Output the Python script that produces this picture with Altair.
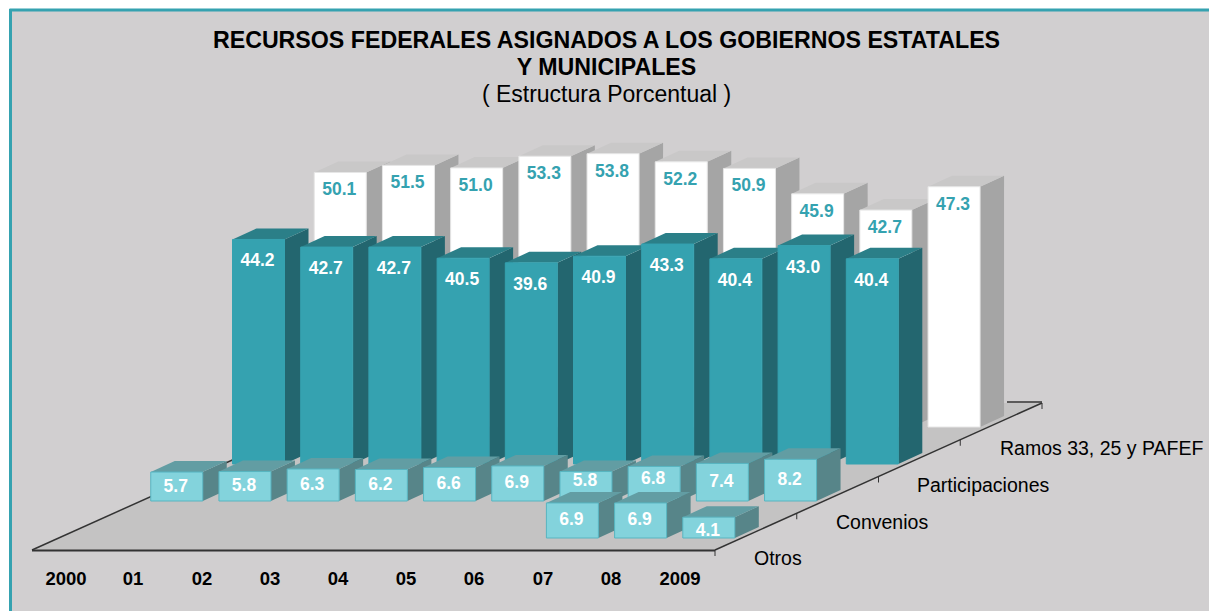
import altair as alt
import pandas as pd

years = ["2000", "01", "02", "03", "04", "05", "06", "07", "08", "2009"]
series_names = ["Otros", "Convenios", "Participaciones", "Ramos 33, 25 y PAFEF"]
otros = [None, None, None, None, None, None, None, 6.9, 6.9, 4.1]
convenios = [5.7, 5.8, 6.3, 6.2, 6.6, 6.9, 5.8, 6.8, 7.4, 8.2]
participaciones = [44.2, 42.7, 42.7, 40.5, 39.6, 40.9, 43.3, 40.4, 43.0, 40.4]
ramos = [50.1, 51.5, 51.0, 53.3, 53.8, 52.2, 50.9, 45.9, 42.7, 47.3]
all_series = [otros, convenios, participaciones, ramos]

W, H = 1201, 603
STEP = 68.2       # px between columns
PCT = 5.08        # px per percentage point
COL_W = 52
DX, DY = 24, 11   # depth of a box
DEPTH_X, DEPTH_Y = 81.75, 37  # shift from one series row to the next
X0, Y0 = 69, 538  # front-left base of the first row

def ux(px):
    return (px - 8) / STEP

def uy(py):
    return (611 - py) / PCT

x_scale = alt.Scale(domain=[0, W / STEP], nice=False, zero=False)
y_scale = alt.Scale(domain=[0, H / PCT], nice=False, zero=False)
X = alt.X("x:Q", scale=x_scale, axis=None)
Y = alt.Y("y:Q", scale=y_scale, axis=None)

styles = [
    dict(front="#83D3DC", edge="#57B5C1", top="#629DA3", side="#578589", text="#FFFFFF", lab=None),
    dict(front="#83D3DC", edge="#57B5C1", top="#629DA3", side="#578589", text="#FFFFFF", lab=None),
    dict(front="#35A2B0", edge="#35A2B0", top="#2B7F88", side="#23666F", text="#FFFFFF", lab=22),
    dict(front="#FFFFFF", edge="#E6E6E6", top="#C9C8C8", side="#A5A5A5", text="#35A2B0", lab=18),
]
nudges = {(1, 6): -5, (1, 7): -5, (0, 9): 3.5}

def area(rows, color):
    df = pd.DataFrame(rows, columns=["x", "y", "y2", "k"])
    return alt.Chart(df).mark_area(color=color, opacity=1, interpolate="linear").encode(
        x=X, y=Y, y2="y2:Q", detail="k:N")

def seg(rows, color, width=1.5):
    df = pd.DataFrame(rows, columns=["x", "y", "x2", "y2"])
    return alt.Chart(df).mark_rule(color=color, strokeWidth=width).encode(x=X, y=Y, x2="x2:Q", y2="y2:Q")

layers = []

# panel
panel = pd.DataFrame({"x": [ux(11)], "x2": [W / STEP], "y": [uy(10)], "y2": [0]})
layers.append(alt.Chart(panel).mark_rect(color="#D1CFD0").encode(x=X, x2="x2:Q", y=Y, y2="y2:Q"))
layers.append(seg([(ux(9.5), uy(10), W / STEP, uy(10)), (ux(10.5), uy(9), ux(10.5), 0)], "#35A2B0", 3))

# floor
fx = [32, 359, 715, 1042]
layers.append(area([(ux(fx[0]), uy(550), uy(550), 0), (ux(fx[1]), uy(403), uy(550), 0),
                    (ux(fx[2]), uy(403), uy(550), 0), (ux(fx[3]), uy(403), uy(403), 0)], "#C4C3C3"))
layers.append(seg([(ux(715), uy(550), ux(1042), uy(403)),
                   (ux(32), uy(550), ux(359), uy(403)),
                   (ux(1007), uy(402), ux(1042), uy(402))], "#333333"))
layers.append(seg([(ux(32), uy(550.5), ux(715), uy(550.5))], "#333333", 2))
ticks = []
for s in range(5):
    tx, ty = 715 + s * DEPTH_X, 550 - s * 36.75
    ticks.append((ux(tx), uy(ty), ux(tx), uy(ty + 6)))
layers.append(seg(ticks, "#333333", 1))

# boxes, back to front
for s in [3, 2, 1, 0]:
    st = styles[s]
    vals = all_series[s]
    base_px = Y0 - s * DEPTH_Y
    left_px = X0 + s * DEPTH_X
    sides, tops, fronts, labels = [], [], [], []
    for i, v in enumerate(vals):
        if v is None:
            continue
        l = left_px + i * STEP
        r = l + COL_W
        top = base_px - v * PCT
        sides += [(ux(r), uy(top), uy(base_px), i), (ux(r + DX), uy(top - DY), uy(base_px - DY), i)]
        tops += [(ux(l), uy(top), uy(top), i), (ux(l + DX), uy(top - DY), uy(top), i),
                 (ux(r), uy(top - DY), uy(top), i), (ux(r + DX), uy(top - DY), uy(top - DY), i)]
        fronts.append((ux(l), ux(r), uy(top), uy(base_px)))
        ly = top + st["lab"] if st["lab"] else (top + base_px) / 2
        ly += nudges.get((s, i), 0)
        labels.append((ux((l + r) / 2 - 1), uy(ly), f"{v:.1f}"))
    layers.append(area(sides, st["side"]))
    layers.append(area(tops, st["top"]))
    fdf = pd.DataFrame(fronts, columns=["x", "x2", "y", "y2"])
    layers.append(alt.Chart(fdf).mark_rect(color=st["front"], stroke=st["edge"], strokeWidth=1)
                  .encode(x=X, x2="x2:Q", y=Y, y2="y2:Q"))
    ldf = pd.DataFrame(labels, columns=["x", "y", "t"])
    layers.append(alt.Chart(ldf).mark_text(color=st["text"], font="Liberation Sans", fontWeight="bold",
                                           fontSize=17.5, baseline="middle", align="center")
                  .encode(x=X, y=Y, text="t:N"))

# category (year) labels
year_px = [66, 133, 202, 270, 338, 406, 474, 543, 611, 680]
ydf = pd.DataFrame({"x": [ux(p) for p in year_px], "y": [uy(579)] * 10, "t": years})
layers.append(alt.Chart(ydf).mark_text(color="#000000", font="Liberation Sans", fontWeight="bold",
                                       fontSize=18.5, baseline="middle", align="center")
              .encode(x=X, y=Y, text="t:N"))

# series labels
lab_pos = [(754, 559), (836, 523), (917, 486), (1000, 449)]
sdf = pd.DataFrame({"x": [ux(p[0]) for p in lab_pos], "y": [uy(p[1]) for p in lab_pos], "t": series_names})
layers.append(alt.Chart(sdf).mark_text(color="#000000", font="Liberation Sans", fontSize=19.5,
                                       baseline="middle", align="left")
              .encode(x=X, y=Y, text="t:N"))

chart = alt.layer(*layers).properties(
    width=W, height=H,
    title=alt.TitleParams(
        text=["RECURSOS FEDERALES ASIGNADOS A LOS GOBIERNOS ESTATALES", "Y MUNICIPALES"],
        subtitle="( Estructura Porcentual )",
        anchor="middle", orient="top", dx=-2, dy=100, offset=0,
        font="Liberation Sans", fontWeight="bold", fontSize=23.2, lineHeight=27, color="#000000",
        subtitleFont="Liberation Sans", subtitleFontSize=23, subtitleFontWeight="normal",
        subtitleColor="#000000", subtitlePadding=3,
    ),
    padding=0,
    autosize=alt.AutoSizeParams(type="none"),
    background="#FFFFFF",
).configure_view(strokeWidth=0)

chart.save("out.html", embed_options={"renderer": "svg", "actions": False})
